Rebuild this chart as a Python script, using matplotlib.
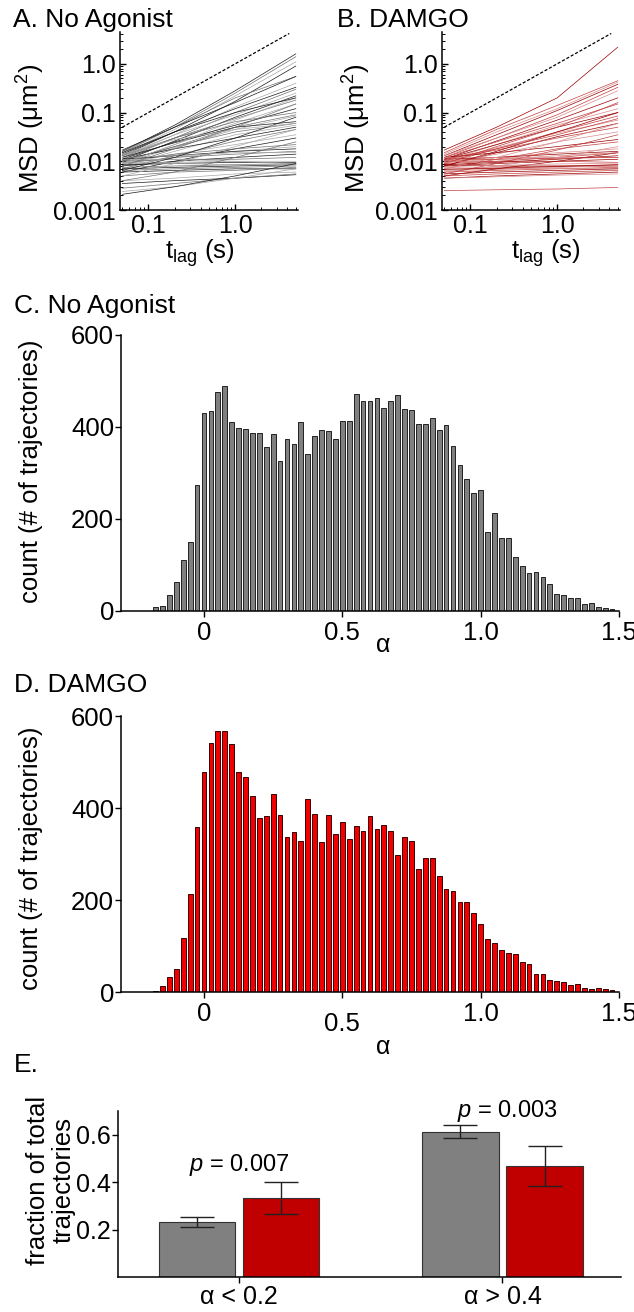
import numpy as np
import matplotlib.pyplot as plt
import matplotlib.transforms as mtransforms
from matplotlib.ticker import NullFormatter

plt.rcParams['font.family'] = ['Liberation Sans', 'DejaVu Sans']
plt.rcParams['mathtext.fontset'] = 'custom'
plt.rcParams['mathtext.rm'] = 'Liberation Sans'
plt.rcParams['mathtext.it'] = 'Liberation Sans:italic'

# --- A/B: MSD curves (um^2) read at these lag times (s)
t_lag = [0.05, 0.2, 1.0, 5.0]
msd_none = [
    [0.016, 0.055, 0.28, 1.6], [0.015, 0.05, 0.25, 1.4], [0.014, 0.045, 0.22, 1.1],
    [0.013, 0.04, 0.17, 0.9], [0.016, 0.05, 0.2, 0.55], [0.012, 0.035, 0.13, 0.4],
    [0.014, 0.04, 0.12, 0.33], [0.011, 0.03, 0.1, 0.3], [0.013, 0.035, 0.09, 0.25],
    [0.010, 0.026, 0.08, 0.22], [0.012, 0.03, 0.075, 0.18], [0.009, 0.022, 0.06, 0.15],
    [0.011, 0.025, 0.055, 0.12], [0.010, 0.02, 0.05, 0.09], [0.009, 0.019, 0.045, 0.085],
    [0.012, 0.024, 0.05, 0.065], [0.010, 0.02, 0.04, 0.06], [0.008, 0.016, 0.035, 0.055],
    [0.011, 0.018, 0.03, 0.05], [0.007, 0.013, 0.026, 0.045], [0.009, 0.014, 0.022, 0.035],
    [0.006, 0.01, 0.018, 0.03], [0.010, 0.014, 0.018, 0.022], [0.008, 0.012, 0.016, 0.02],
    [0.011, 0.013, 0.016, 0.018], [0.009, 0.012, 0.014, 0.016], [0.012, 0.013, 0.015, 0.015],
    [0.008, 0.010, 0.012, 0.014], [0.010, 0.011, 0.011, 0.012], [0.009, 0.0095, 0.010, 0.010],
    [0.0085, 0.009, 0.0095, 0.0095], [0.0075, 0.008, 0.0085, 0.009], [0.011, 0.011, 0.010, 0.009],
    [0.007, 0.0075, 0.008, 0.0085], [0.0065, 0.007, 0.0075, 0.008], [0.0095, 0.009, 0.0085, 0.0085],
    [0.006, 0.0065, 0.007, 0.007], [0.005, 0.006, 0.0065, 0.0075], [0.004, 0.0045, 0.0055, 0.006],
    [0.0035, 0.004, 0.0045, 0.0053], [0.0028, 0.0035, 0.0045, 0.0055], [0.0024, 0.003, 0.0045, 0.007],
    [0.0021, 0.003, 0.005, 0.009], [0.004, 0.006, 0.012, 0.025], [0.005, 0.009, 0.02, 0.045],
    [0.0065, 0.012, 0.03, 0.08], [0.008, 0.018, 0.05, 0.15], [0.009, 0.022, 0.07, 0.2],
    [0.015, 0.04, 0.1, 0.2], [0.013, 0.03, 0.065, 0.1], [0.014, 0.028, 0.045, 0.06],
    [0.017, 0.05, 0.16, 0.55],
]
msd_damgo = [
    [0.017, 0.05, 0.2, 2.2], [0.015, 0.045, 0.14, 0.45], [0.014, 0.04, 0.12, 0.42],
    [0.013, 0.035, 0.11, 0.38], [0.012, 0.03, 0.09, 0.33], [0.013, 0.03, 0.08, 0.28],
    [0.011, 0.026, 0.07, 0.2], [0.012, 0.025, 0.06, 0.15], [0.010, 0.022, 0.055, 0.12],
    [0.011, 0.022, 0.05, 0.1], [0.009, 0.018, 0.04, 0.085], [0.010, 0.019, 0.038, 0.07],
    [0.008, 0.015, 0.032, 0.06], [0.011, 0.017, 0.03, 0.05], [0.009, 0.014, 0.025, 0.04],
    [0.012, 0.015, 0.02, 0.028], [0.007, 0.011, 0.018, 0.025], [0.010, 0.012, 0.015, 0.018],
    [0.011, 0.012, 0.014, 0.016], [0.009, 0.010, 0.012, 0.015], [0.012, 0.012, 0.012, 0.012],
    [0.008, 0.009, 0.010, 0.011], [0.010, 0.010, 0.010, 0.0095], [0.007, 0.0075, 0.008, 0.0085],
    [0.0085, 0.008, 0.008, 0.008], [0.006, 0.0065, 0.007, 0.0075], [0.0075, 0.007, 0.0072, 0.007],
    [0.0055, 0.006, 0.0065, 0.007], [0.005, 0.0055, 0.006, 0.0065], [0.0065, 0.0068, 0.0075, 0.008],
    [0.0045, 0.005, 0.0055, 0.006], [0.0025, 0.0026, 0.0027, 0.0029], [0.006, 0.008, 0.012, 0.02],
    [0.005, 0.007, 0.01, 0.015], [0.0055, 0.009, 0.017, 0.035], [0.007, 0.012, 0.025, 0.06],
    [0.008, 0.016, 0.04, 0.1], [0.009, 0.02, 0.05, 0.16], [0.0095, 0.011, 0.013, 0.015],
    [0.0085, 0.0095, 0.011, 0.013], [0.0105, 0.011, 0.0115, 0.012], [0.0078, 0.0082, 0.0088, 0.0092],
    [0.0068, 0.0072, 0.0078, 0.0085], [0.011, 0.018, 0.035, 0.075], [0.0045, 0.0048, 0.0052, 0.0055],
]
ref_t = [0.05, 4.2]  # slope-1 guide line

# --- C/D: alpha histograms
alpha_bins = np.round(np.arange(-0.175, 1.4751, 0.025), 3)
count_none = [9, 10, 34, 62, 110, 151, 275, 431, 434, 477, 489, 411, 398, 395, 386, 388, 356,
              384, 327, 375, 364, 411, 341, 380, 393, 392, 375, 412, 414, 472, 456, 457, 464,
              441, 457, 470, 440, 438, 407, 407, 420, 393, 405, 358, 318, 288, 257, 263, 172,
              214, 159, 159, 117, 98, 83, 85, 75, 59, 37, 35, 29, 28, 15, 18, 9, 7, 4]
count_damgo = [2, 14, 33, 49, 118, 213, 358, 478, 541, 567, 567, 539, 479, 467, 427, 379, 383,
               430, 385, 336, 347, 328, 420, 388, 326, 385, 343, 369, 332, 361, 349, 383, 355,
               362, 351, 298, 337, 328, 268, 292, 292, 252, 225, 220, 196, 196, 172, 147, 115,
               107, 91, 85, 83, 65, 60, 40, 40, 27, 23, 22, 15, 17, 8, 7, 9, 7, 5]

# --- E: fraction of trajectories
groups = ['α < 0.2', 'α > 0.4']
frac_none = [0.231, 0.613]
err_none = [0.021, 0.026]
frac_damgo = [0.333, 0.469]
err_damgo = [0.069, 0.084]
p_vals = ['0.007', '0.003']

W, H = 634, 1312
fig = plt.figure(figsize=(W / 100, H / 100), dpi=100)


def px_axes(l, t, r, b):
    return fig.add_axes([l / W, 1 - b / H, (r - l) / W, (b - t) / H])


def ftext(x, y, s, **kw):
    return fig.text(x / W, 1 - y / H, s, **kw)


def clean(ax):
    for s in ['top', 'right']:
        ax.spines[s].set_visible(False)
    for s in ['left', 'bottom']:
        ax.spines[s].set_linewidth(1.1)


def msd_panel(ax, curves, colors):
    for i, c in enumerate(curves):
        ax.plot(t_lag, c, color=colors[i % len(colors)], lw=0.5)
    ax.plot(ref_t, ref_t, color='k', lw=0.9, ls=(0, (2.5, 1.5)))
    ax.set_xscale('log')
    ax.set_yscale('log')
    ax.set_xlim(0.047, 5.3)
    ax.set_ylim(0.001, 4.5)
    ax.set_xticks([0.1, 1.0], ['0.1', '1.0'])
    ax.set_yticks([0.001, 0.01, 0.1, 1.0], ['0.001', '0.01', '0.1', '1.0'])
    ax.xaxis.set_minor_formatter(NullFormatter())
    ax.yaxis.set_minor_formatter(NullFormatter())
    ax.tick_params(which='major', direction='in', length=4, width=1, labelsize=18, pad=3)
    ax.tick_params(which='minor', direction='in', length=2.5, width=0.7)
    clean(ax)


axA = px_axes(120, 32, 298, 210)
msd_panel(axA, msd_none, ['#1a1a1a', '#707070', '#a8a8a8'])
axB = px_axes(442, 32, 620, 210)
msd_panel(axB, msd_damgo, ['#9a0000', '#c44040', '#d88a8a'])

ftext(13, 27, 'A. No Agonist', fontsize=19, va='baseline')
ftext(337, 27, 'B. DAMGO', fontsize=19, va='baseline')
ftext(31, 128, 'MSD (μm$^2$)', fontsize=18.5, rotation=90, ha='center', va='center')
ftext(357, 128, 'MSD (μm$^2$)', fontsize=18.5, rotation=90, ha='center', va='center')
ftext(200, 253, r'$\mathregular{t_{lag}}$ (s)', fontsize=18.5, ha='center', va='center')
ftext(546, 253, r'$\mathregular{t_{lag}}$ (s)', fontsize=18.5, ha='center', va='center')


def hist_panel(ax, counts, face, edge):
    ax.bar(alpha_bins, counts, width=0.017, color=face, edgecolor=edge, linewidth=0.7)
    ax.set_xlim(-0.3, 1.5)
    ax.set_ylim(0, 600)
    ax.set_xticks([0, 0.5, 1.0, 1.5], ['0', '0.5', '1.0', '1.5'])
    ax.set_yticks([0, 200, 400, 600], ['0', '200', '400', '600'])
    ax.tick_params(axis='y', direction='out', length=4, width=1, labelsize=18.5, pad=1)
    ax.tick_params(axis='x', direction='out', length=4, width=1, labelsize=18.5, pad=3.5)
    clean(ax)


axC = px_axes(121, 335, 619, 611)
hist_panel(axC, count_none, '#808080', '#222222')
axD = px_axes(121, 716, 619, 992)
hist_panel(axD, count_damgo, '#f00000', '#3a0000')
# the 0.5 label of panel D sits lower in the original
lbl = axD.xaxis.get_major_ticks()[1].label1
lbl.set_transform(lbl.get_transform() + mtransforms.ScaledTranslation(0, -0.10, fig.dpi_scale_trans))

ftext(14, 313, 'C. No Agonist', fontsize=19, va='baseline')
ftext(14, 692, 'D. DAMGO', fontsize=19, va='baseline')
for yc in [471, 858]:
    ftext(31, yc, 'count (# of trajectories)', fontsize=18.5, rotation=90, ha='center', va='center')
ftext(383, 645, 'α', fontsize=18, ha='center', va='center')
ftext(383, 1047, 'α', fontsize=18, ha='center', va='center')

# --- E
axE = px_axes(118, 1111, 621, 1277)
x = np.arange(len(groups))
wbar = 0.29
axE.bar(x - 0.16, frac_none, width=wbar, color='#808080', edgecolor='#333333', linewidth=0.8)
axE.bar(x + 0.16, frac_damgo, width=wbar, color='#c00000', edgecolor='#333333', linewidth=0.8)
axE.errorbar(x - 0.16, frac_none, yerr=err_none, fmt='none', ecolor='#222222', elinewidth=1,
             capsize=12, capthick=1)
axE.errorbar(x + 0.16, frac_damgo, yerr=err_damgo, fmt='none', ecolor='#222222', elinewidth=1,
             capsize=12, capthick=1)
axE.set_xlim(-0.46, 1.45)
axE.set_ylim(0, 0.7)
axE.set_yticks([0.2, 0.4, 0.6], ['0.2', '0.4', '0.6'])
axE.set_xticks(x, groups)
axE.tick_params(axis='y', direction='out', length=4, width=1, labelsize=18, pad=1)
axE.tick_params(axis='x', direction='out', length=4, width=1, labelsize=18, pad=2)
clean(axE)
axE.text(0, 0.474, r'$p$ = ' + p_vals[0], fontsize=17, ha='center', va='center')
axE.text(1.02, 0.70, r'$p$ = ' + p_vals[1], fontsize=17, ha='center', va='center')

ftext(14, 1072, 'E.', fontsize=19, va='baseline')
ftext(51, 1180, 'fraction of total\ntrajectories', fontsize=18.5, rotation=90, ha='center',
      va='center', multialignment='center', linespacing=1.1)

fig.savefig('out.png', dpi=100)
